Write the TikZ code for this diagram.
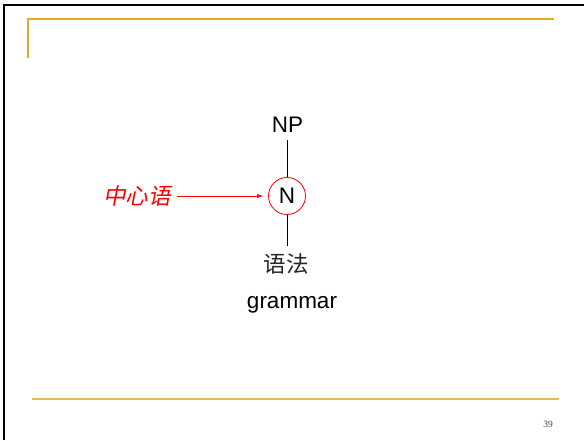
\documentclass[tikz,border=0pt]{standalone}
\usepackage{fontspec}
\setmainfont{Liberation Sans}
\newfontfamily\cjk{Noto Sans CJK SC}
\newfontfamily\cjkslant[FakeSlant=0.2]{Noto Sans CJK SC}
\newfontfamily\pagefont{Liberation Serif}
\usetikzlibrary{arrows.meta}
\definecolor{goldline}{RGB}{220,172,45}
\definecolor{goldlow}{RGB}{226,186,84}
\def\big{\fontsize{22.5}{27}\selectfont}

\begin{document}
\begin{tikzpicture}[x=1pt, y=-1pt,
		treeline/.style={line width=0.8pt, color=black},
		headnode/.style={circle, draw=red, line width=0.8pt, minimum size=37pt, inner sep=0pt}]
		%%%%% START %%%%%
		
		\useasboundingbox (0, 0) rectangle (584, 440);
		\fill[white] (0, 0) rectangle (584, 440);
		
		% slide frame
		\draw[line width=2pt, color=black] (4, 440) -- (4, 5) -- (584, 5);
		\draw[line width=2pt, color=goldline] (27.5, 58) -- (27.5, 18.5) -- (554, 18.5);
		\draw[line width=2pt, color=goldlow] (32, 399) -- (559, 399);
		
		% tree
		\node[anchor=base] (np) at (287.5, 132.7) {\big NP};
		\node[headnode] (n) at (287, 196) {\big N};
		\node[text=black!85] (yufa) at (286, 264) {\big\cjk 语法};
		\node[anchor=base] (grammar) at (292, 308) {\big grammar};
		
		\draw[treeline, shorten <=4pt] (np.south -| n.north) -- (n.north);
		\draw[treeline, shorten >=4pt] (n.south) -- (yufa.north -| n.south);
		
		% label
		\node[text=red] (zxy) at (137, 196) {\big\cjkslant 中心语};
		\draw[-{Latex[length=6pt, width=4pt]}, line width=0.6pt, color=red, shorten <=3pt, shorten >=5pt] (zxy.east) -- (n.west);
		
		\node[text=black!75] (page) at (548, 424) {\fontsize{9.5}{11}\selectfont\pagefont 39};
		
		%%%%% END %%%%%
\end{tikzpicture}
\end{document}
